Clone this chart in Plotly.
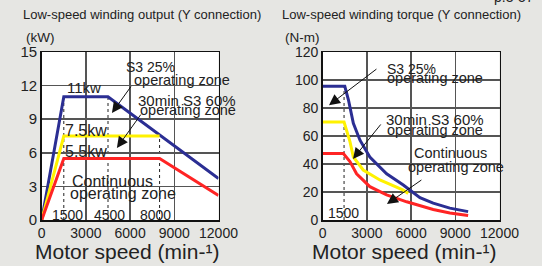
import plotly.graph_objects as go

W, H = 542, 266

# ---------------- data ----------------
# Left chart: output (kW) vs motor speed
out_blue_speed = [0, 1500, 4500, 12000]
out_blue_kw = [0, 11, 11, 3.7]
out_yellow_speed = [0, 1500, 8000]
out_yellow_kw = [0, 7.5, 7.5]
out_red_speed = [0, 1500, 8000, 12000]
out_red_kw = [0, 5.5, 5.5, 2.2]

# Right chart: torque (N-m) vs motor speed
tq_blue_speed = [0, 1500, 1750, 2080, 2530, 3200, 4340, 5470, 6600, 7500, 8630, 9870]
tq_blue_nm = [95.5, 95.5, 85.7, 69, 57, 45, 33, 25, 16, 12, 8.5, 6]
tq_yellow_speed = [0, 1450, 1850, 2080, 2750, 3880, 5470, 5800]
tq_yellow_nm = [70, 70, 56, 45, 35.7, 28.6, 21.4, 19]
tq_red_speed = [0, 1400, 1850, 2300, 3200, 4340, 5700, 6600, 7500, 8630, 9870]
tq_red_nm = [47.5, 47.5, 41.7, 33, 23.8, 17.9, 13, 10, 7.5, 5, 3.2]

# dotted guide lines (speed, top value)
left_guides_speed = [1500, 4500, 8000]
left_guides_top = [11, 11, 7.5]
right_guides_speed = [1450]
right_guides_top = [95.5]

x_ticks = [0, 3000, 6000, 9000, 12000]
left_y_ticks = [0, 3, 6, 9, 12, 15]
right_y_ticks = [0, 20, 40, 60, 80, 100, 120]

BLUE = "#2b2e93"
YELLOW = "#fff200"
RED = "#ff2424"
BG = "#e6e6e3"
TXT = "#222222"
FONT = "Liberation Sans, Arial, sans-serif"

fig = go.Figure()

def add_line(x, y, color, xa, ya):
    fig.add_trace(go.Scatter(x=x, y=y, mode="lines", line=dict(color=color, width=3),
                             xaxis=xa, yaxis=ya, showlegend=False, hoverinfo="skip"))

add_line(out_blue_speed, out_blue_kw, BLUE, "x", "y")
add_line(out_yellow_speed, out_yellow_kw, YELLOW, "x", "y")
add_line(out_red_speed, out_red_kw, RED, "x", "y")
add_line(tq_blue_speed, tq_blue_nm, BLUE, "x2", "y2")
add_line(tq_yellow_speed, tq_yellow_nm, YELLOW, "x2", "y2")
add_line(tq_red_speed, tq_red_nm, RED, "x2", "y2")

shapes = []
for sx, top in zip(left_guides_speed, left_guides_top):
    shapes.append(dict(type="line", xref="x", yref="y", x0=sx, x1=sx, y0=0, y1=top,
                       line=dict(color="#222", width=1, dash="dot"), layer="below"))
for sx, top in zip(right_guides_speed, right_guides_top):
    shapes.append(dict(type="line", xref="x2", yref="y2", x0=sx, x1=sx, y0=0, y1=top,
                       line=dict(color="#222", width=1, dash="dot"), layer="below"))

ydom = [1 - 220 / H, 1 - 52 / H]
axis_common = dict(showgrid=True, gridcolor="#555555", gridwidth=1.5, zeroline=False,
                   showline=True, linecolor="#111", linewidth=1.5, mirror=True,
                   ticks="", automargin=False,
                   tickfont=dict(family=FONT, size=14, color=TXT), fixedrange=True)

fig.update_layout(
    template="none",
    width=W, height=H,
    margin=dict(l=0, r=0, t=0, b=0, pad=0),
    paper_bgcolor=BG, plot_bgcolor="white",
    xaxis=dict(domain=[41.7 / W, 218.5 / W], range=[0, 12000], tickvals=x_ticks,
               ticktext=[str(v) for v in x_ticks], anchor="y", **axis_common),
    yaxis=dict(domain=ydom, range=[0, 15], tickvals=left_y_ticks, anchor="x",
               **{**axis_common, "tickfont": dict(family=FONT, size=15, color=TXT)}),
    xaxis2=dict(domain=[322.7 / W, 499.5 / W], range=[0, 12000], tickvals=x_ticks,
                ticktext=[str(v) for v in x_ticks], anchor="y2", **axis_common),
    yaxis2=dict(domain=ydom, range=[0, 120], tickvals=right_y_ticks, anchor="x2", **axis_common),
    shapes=shapes,
)

ann = []

def txt(text, x, y, xr, yr, size=14, xanchor="center"):
    ann.append(dict(text=text, x=x, y=y, xref=xr, yref=yr, showarrow=False,
                    xanchor=xanchor, yanchor="middle", borderpad=0,
                    font=dict(family=FONT, size=size, color=TXT)))

def ptxt(text, px, py, size=14, xanchor="center"):
    txt(text, px / W, 1 - py / H, "paper", "paper", size, xanchor)

def arrow(x0, y0, x1, y1, xr, yr):
    ann.append(dict(text="", x=x1, y=y1, ax=x0, ay=y0, xref=xr, yref=yr, axref=xr, ayref=yr,
                    showarrow=True, arrowhead=2, arrowsize=2.2, arrowwidth=1, arrowcolor="#111"))

# titles
ptxt("Low-speed winding output (Y connection)", 142, 15, 13)
ptxt("(kW)", 40, 37, 13.5)
ptxt("Low-speed winding torque (Y connection)", 402, 15, 13)
ptxt("(N-m)", 302, 37, 13.5)
ptxt("Motor speed (min-¹)", 127, 251, 21)
ptxt("Motor speed (min-¹)", 404, 251, 21)
ptxt("p.3-57", 514, -3, 14)

# left chart labels
txt("11kw", 2870, 11.8, "x", "y", 15)
txt("7.5kw", 3000, 8.0, "x", "y", 16)
txt("5.5kw", 3000, 6.16, "x", "y", 16)
txt("1500", 1780, 0.45, "x", "y", 14)
txt("4500", 4600, 0.45, "x", "y", 14)
txt("8000", 7715, 0.45, "x", "y", 14)
txt("Continuous", 4800, 3.48, "x", "y", 16)
txt("operating zone", 5546, 2.4, "x", "y", 16)
txt("S3 25%", 7410, 13.7, "x", "y", 14)
txt("operating zone", 9510, 12.5, "x", "y", 14.5)
txt("30min S3 60%", 9885, 10.67, "x", "y", 15)
txt("operating zone", 9950, 9.82, "x", "y", 14.5)
txt("3.7kw", 13650, 3.66, "x", "y", 13)
txt("2.2kw", 13650, 2.5, "x", "y", 13)
arrow(6130, 12.05, 4766, 9.55, "x", "y")
arrow(6800, 9.55, 5105, 6.43, "x", "y")

# right chart labels
txt("S3 25%", 6020, 108, "x2", "y2", 14)
txt("operating zone", 7610, 101.4, "x2", "y2", 14.5)
txt("30min S3 60%", 7610, 72, "x2", "y2", 15)
txt("operating zone", 7610, 64.3, "x2", "y2", 14.5)
txt("Continuous", 8660, 48.2, "x2", "y2", 14.5)
txt("operating zone", 9040, 38, "x2", "y2", 14.5)
txt("1500", 1410, 5, "x2", "y2", 14)
arrow(3750, 108.6, 427, 82, "x2", "y2")
arrow(4020, 69.3, 2054, 43.6, "x2", "y2")
arrow(6800, 29.3, 4360, 11.4, "x2", "y2")

fig.update_layout(annotations=ann)
fig.write_html("out.html", config={"displayModeBar": False, "staticPlot": True},
               post_script="document.body.style.margin='0';document.body.style.padding='0';"
                           "document.body.style.background='" + BG + "';")
